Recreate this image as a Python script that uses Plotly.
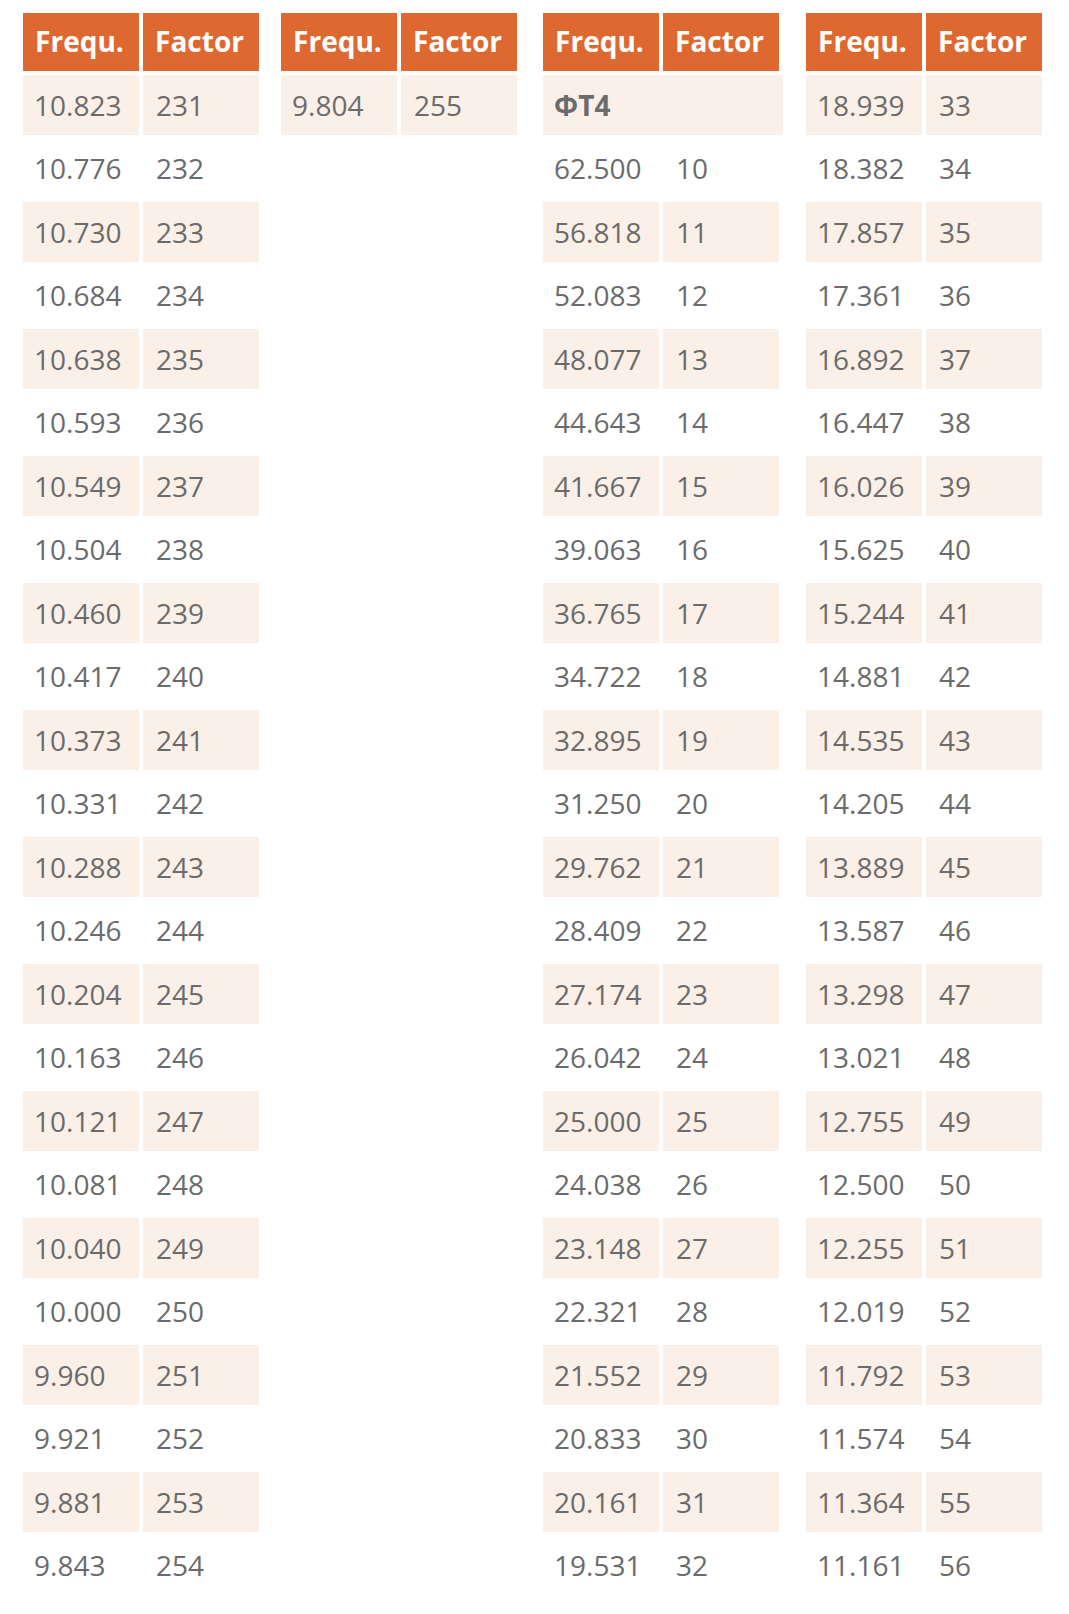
import plotly.graph_objects as go

W, H = 1069, 1614
BODY_MARGIN = 8  # default page margin around the plot div

HEADERS = ['Frequ.', 'Factor']

# four side-by-side tables of frequency / factor pairs
FREQ_1 = ['10.823', '10.776', '10.730', '10.684', '10.638', '10.593', '10.549', '10.504',
          '10.460', '10.417', '10.373', '10.331', '10.288', '10.246', '10.204', '10.163',
          '10.121', '10.081', '10.040', '10.000', '9.960', '9.921', '9.881', '9.843']
FACTOR_1 = list(range(231, 255))

FREQ_2 = ['9.804']
FACTOR_2 = [255]

FREQ_3 = ['<b>ΦT4</b>', '62.500', '56.818', '52.083', '48.077', '44.643', '41.667', '39.063',
          '36.765', '34.722', '32.895', '31.250', '29.762', '28.409', '27.174', '26.042',
          '25.000', '24.038', '23.148', '22.321', '21.552', '20.833', '20.161', '19.531']
FACTOR_3 = [''] + list(range(10, 33))

FREQ_4 = ['18.939', '18.382', '17.857', '17.361', '16.892', '16.447', '16.026', '15.625',
          '15.244', '14.881', '14.535', '14.205', '13.889', '13.587', '13.298', '13.021',
          '12.755', '12.500', '12.255', '12.019', '11.792', '11.574', '11.364', '11.161']
FACTOR_4 = list(range(33, 57))

TABLES = [(FREQ_1, FACTOR_1), (FREQ_2, FACTOR_2), (FREQ_3, FACTOR_3), (FREQ_4, FACTOR_4)]

ORANGE = '#DD6931'
TINT = '#FBF0E8'
TEXT = '#6B6B6B'
FONT = 'Open Sans'

# layout in page pixels
TABLE_LEFT = [21, 279, 541, 804]
TABLE_W = 240
TOP = 11
HEADER_H = 62
ROW_H = 63.5
LINE_W = 4

fw, fh = W - 2 * BODY_MARGIN, H - 2 * BODY_MARGIN

# a small raised space makes plotly settle the text a bit lower in its cell;
# the leading hair/thin space sets the indent
HEAD_PAD = '\u200a<sup>\u2009</sup>'
FREQ_PAD = '\u200a<sup><sup>\u2009</sup></sup>'
FACT_PAD = '\u2009<sup><sup>\u2009</sup></sup>'


def padded(values, lead):
    return [lead + str(v) if str(v) else '' for v in values]


fig = go.Figure()

for left, (freqs, factors) in zip(TABLE_LEFT, TABLES):
    n = len(freqs)
    fills = [TINT if i % 2 == 0 else 'white' for i in range(n)]
    lines = ['white'] * n
    lines2 = list(lines)
    if freqs[0].startswith('<b>'):
        # merged label row: hide the divider between the two cells
        lines2[0] = TINT
    x0 = (left - BODY_MARGIN) / fw
    x1 = (left + TABLE_W - BODY_MARGIN) / fw
    fig.add_trace(go.Table(
        domain=dict(x=[x0, x1], y=[0, 1 - (TOP - BODY_MARGIN) / fh]),
        columnwidth=[1, 1],
        header=dict(values=padded(['<b>%s</b>' % h for h in HEADERS], HEAD_PAD),
                    fill_color=ORANGE,
                    line=dict(color='white', width=LINE_W),
                    align='left',
                    height=HEADER_H,
                    font=dict(family=FONT, size=28, color='white')),
        cells=dict(values=[padded(freqs, FREQ_PAD), padded(factors, FACT_PAD)],
                   fill_color=[fills, fills],
                   line=dict(color=[lines, lines2], width=LINE_W),
                   align='left',
                   height=ROW_H,
                   font=dict(family=FONT, size=28, color=TEXT)),
    ))

fig.update_layout(width=fw, height=fh,
                  margin=dict(l=0, r=0, t=0, b=0),
                  paper_bgcolor='white',
                  plot_bgcolor='white')

fig.write_html("out.html")
